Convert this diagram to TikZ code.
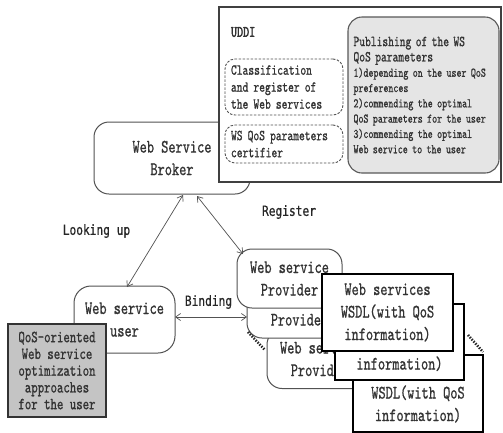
\documentclass[tikz,border=0pt]{standalone}
\usepackage{fontspec}
\usetikzlibrary{arrows.meta,calc}
% narrow monospaced serif for box texts, narrow sans for connector labels
\newfontfamily\simfont[FakeStretch=0.72,FakeBold=0.8]{lmmono10-regular.otf}
\newfontfamily\simbold[FakeStretch=0.72,FakeBold=2.2]{lmmono10-regular.otf}
\newfontfamily\heifont[FakeStretch=0.8,FakeBold=0.6]{DejaVu Sans Mono}
\definecolor{edge}{gray}{0.32}
\definecolor{ink}{gray}{0.2}
\definecolor{lightfill}{gray}{0.90}
\definecolor{darkfill}{gray}{0.77}
\begin{document}
\begin{tikzpicture}[x=1pt,y=-1pt,
  every node/.style={inner sep=0pt,outer sep=0pt},
  big/.style={font=\simfont\fontsize{19}{22.5}\selectfont,text=ink},
  rnd/.style={big,draw=edge,line width=1pt,rounded corners=15pt,fill=white,align=center},
  sq/.style={big,draw=black,line width=1.2pt,fill=white,align=center},
  dbox/.style={draw=edge,line width=0.9pt,dash pattern=on 2.5pt off 1.5pt,rounded corners=10pt,
    fill=white,align=left,font=\simfont\fontsize{15.3}{17}\selectfont,text=ink,inner xsep=6pt},
  lbl/.style={font=\heifont\fontsize{14}{16}\selectfont,text=black!85},
  arr/.style={{Straight Barb[length=5pt,width=7pt]}-{Straight Barb[length=5pt,width=7pt]},
    draw=edge,line width=0.7pt},
  dots/.style={draw=black!85,line width=2.6pt,dash pattern=on 1.4pt off 1.4pt}
]
\clip (0,0) rectangle (503,432);
\fill[white] (0,0) rectangle (503,432);

% broker, partly covered by the registry panel
\node[rnd,minimum width=156pt,minimum height=72pt] (broker) at (172,158) {Web Service\\Broker};

% UDDI registry panel
\node[draw=black!75,line width=1.3pt,fill=white,minimum width=282pt,minimum height=175pt] (uddi) at (360,94.5) {};
\node[font=\simbold\fontsize{16}{18}\selectfont,text=ink,anchor=west] (uddilbl) at (231,32) {UDDI};
\node[dbox,text width=106pt,minimum height=56pt] (classify) at (284,87)
  {Classification\\and register of\\the Web services};
\node[dbox,text width=106pt,minimum height=38pt] (certifier) at (284,144)
  {WS QoS parameters\\certifier};
\node[draw=black!65,line width=1.1pt,fill=lightfill,rounded corners=14pt,
  text width=140pt,inner xsep=5.5pt,minimum height=156pt,align=left,text=ink,
  font=\simfont\fontsize{13.2}{15.3}\selectfont] (publish) at (423.5,95)
  {{\fontsize{15.3}{15.3}\selectfont Publishing of the WS}\\
   {\fontsize{15.3}{15.3}\selectfont QoS parameters}\\
   1)depending on the user QoS\\
   preferences\\
   2)commending the optimal\\
   QoS parameters for the user\\
   3)commending the optimal\\
   Web service to the user};

% service user and its optimization module
\node[rnd,minimum width=101pt,minimum height=67pt,rounded corners=17pt] (user) at (124.5,319.5) {Web service\\user};
\node[draw=black!80,line width=1.1pt,fill=darkfill,minimum width=98pt,minimum height=93pt,
  align=center,text=ink,font=\simfont\fontsize{17}{16.75}\selectfont] (qos) at (57,370.5)
  {QoS-oriented\\Web service\\optimization\\approaches\\for the user};

% stacked providers and their WSDL documents (back to front)
\node[rnd,minimum width=105pt,minimum height=59pt] (p3) at (319.5,359) {Web service\\Provider};
\node[sq,minimum width=130pt,minimum height=77pt] (w3) at (418,393.5) {Web services\\WSDL(with QoS\\information)};
\node[rnd,minimum width=105pt,minimum height=59pt] (p2) at (299.5,308.5) {Web service\\Provider};
\node[sq,minimum width=129pt,minimum height=76pt] (w2) at (399.5,342) {Web services\\WSDL(with QoS\\information)};
\node[rnd,minimum width=105pt,minimum height=59pt] (p1) at (289.5,278.5) {Web service\\Provider};
\node[sq,minimum width=131pt,minimum height=77pt] (w1) at (387.5,312.5) {Web services\\WSDL(with QoS\\information)};

\draw[dots] ($(p2.south west)+(1,-6)$) -- ($(p3.west)+(-2,-9)$);
\draw[dots] ($(w2.east)+(4,-7)$) -- ($(w3.north east)+(0,-3)$);

% interactions
\draw[arr] ($(broker.south)+(11,1)$) -- ($(user.north)+(2.5,1)$);
\draw[arr] ($(broker.south)+(25,2)$) -- ($(p1.north west)+(6,5)$);
\draw[arr] ($(user.east)+(0,-2.5)$) coordinate (bindA) -- (bindA -| p2.west);

\node[lbl] (lookup) at (96.5,231) {Looking up};
\node[lbl] (register) at (289,212) {Register};
\node[lbl] (binding) at (208.5,302) {Binding};
\end{tikzpicture}
\end{document}
